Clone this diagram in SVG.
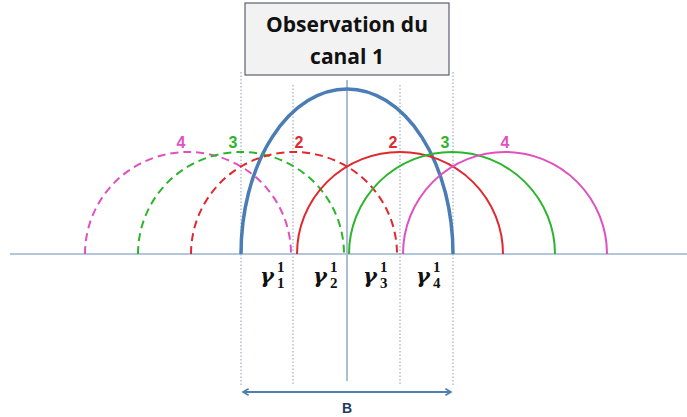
<svg xmlns="http://www.w3.org/2000/svg" width="687" height="417" viewBox="0 0 687 417">
<defs>
<style>
.dot{stroke:#8f9fae;stroke-width:1;stroke-dasharray:1.5 2;fill:none}
.arc{fill:none;stroke-width:2}
.dash{stroke-dasharray:8 5}
.red{stroke:#e0282e}
.green{stroke:#2cb52c}
.pink{stroke:#e050c0}
.lbl{font-family:"Liberation Sans",Arial,sans-serif;font-weight:bold;font-size:16px;text-anchor:middle}
.gam{font-family:"DejaVu Serif","Liberation Serif",serif;font-weight:bold;font-style:italic;font-size:21px}
.idx{font-family:"Liberation Serif","DejaVu Serif",serif;font-weight:bold;font-size:15px}
</style>
<marker id="ah" viewBox="0 0 10 10" refX="8" refY="5" markerWidth="8" markerHeight="8" orient="auto-start-reverse" markerUnits="userSpaceOnUse">
<path d="M1,1 L8,5 L1,9" fill="none" stroke="#4f7fb0" stroke-width="2"/>
</marker>
</defs>
<rect width="687" height="417" fill="#ffffff"/>
<g id="axes">
<line x1="10" y1="254" x2="687" y2="254" stroke="#b4c6da" stroke-width="2"/>
<line x1="347" y1="80" x2="347" y2="381" stroke="#a9bdd3" stroke-width="2"/>
<line class="dot" x1="241" y1="72" x2="241" y2="386"/>
<line class="dot" x1="293" y1="85" x2="293" y2="386"/>
<line class="dot" x1="400" y1="85" x2="400" y2="386"/>
<line class="dot" x1="453" y1="72" x2="453" y2="386"/>
</g>
<g id="box">
<rect x="245" y="3" width="204" height="72" fill="#f2f2f2" stroke="#5a6070" stroke-width="1.2"/>
<text x="347" y="32" font-family="'Open Sans','Liberation Sans',sans-serif" font-weight="bold" font-size="21" text-anchor="middle" fill="#111">Observation du</text>
<text x="347" y="64" font-family="'Open Sans','Liberation Sans',sans-serif" font-weight="bold" font-size="21" text-anchor="middle" fill="#111">canal 1</text>
</g>
<g id="connectors">
<path id="blue" d="M241,254 A106,165 0 0 1 453,254" fill="none" stroke="#4a7cb5" stroke-width="3.5"/>
<path class="arc dash pink" d="M85,254 A103,102 0 0 1 291,254"/>
<path class="arc dash green" d="M138,254 A103,102 0 0 1 344,254"/>
<path class="arc dash red" d="M191,254 A103,102 0 0 1 397,254"/>
<path class="arc red" d="M297,254 A103,102 0 0 1 503,254"/>
<path class="arc green" d="M349,254 A103,102 0 0 1 555,254"/>
<path class="arc pink" d="M403,254 A102,102 0 0 1 607,254"/>
<line x1="243" y1="392" x2="451" y2="392" stroke="#4f7fb0" stroke-width="2" marker-start="url(#ah)" marker-end="url(#ah)"/>
</g>
<g id="labels">
<text class="lbl" x="181" y="148" fill="#e050c0">4</text>
<text class="lbl" x="233" y="148" fill="#2cb52c">3</text>
<text class="lbl" x="299" y="148" fill="#e0282e">2</text>
<text class="lbl" x="393" y="148" fill="#e0282e">2</text>
<text class="lbl" x="445" y="148" fill="#2cb52c">3</text>
<text class="lbl" x="505" y="148" fill="#e050c0">4</text>
<text x="347" y="413" font-family="'Liberation Sans',Arial,sans-serif" font-weight="bold" font-size="14" text-anchor="middle" fill="#1f3a5c">B</text>
</g>
<g id="gammas" fill="#111">
<text class="gam" x="260" y="283">γ</text><text class="idx" x="277" y="272">1</text><text class="idx" x="277" y="288">1</text>
<text class="gam" x="313" y="283">γ</text><text class="idx" x="330" y="272">1</text><text class="idx" x="330" y="288">2</text>
<text class="gam" x="363" y="283">γ</text><text class="idx" x="380" y="272">1</text><text class="idx" x="380" y="288">3</text>
<text class="gam" x="416" y="283">γ</text><text class="idx" x="433" y="272">1</text><text class="idx" x="433" y="288">4</text>
</g>
</svg>
